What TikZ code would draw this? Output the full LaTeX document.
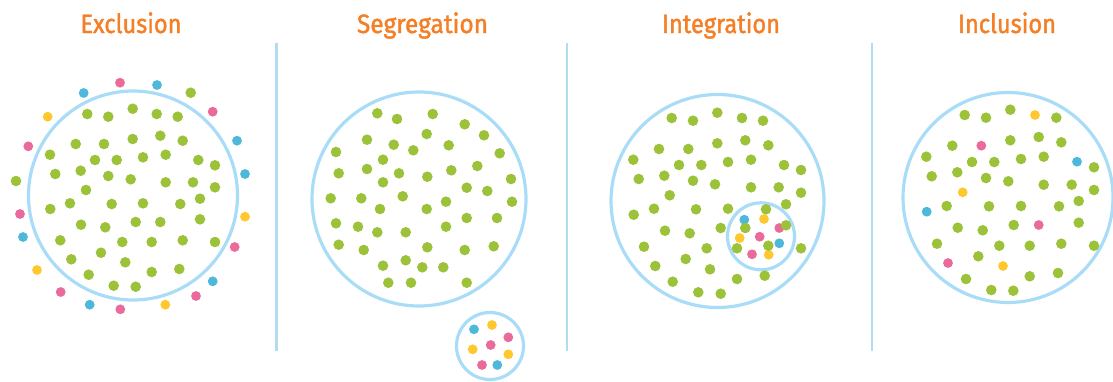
\documentclass[tikz,border=0pt]{standalone}
\usepackage{fontspec}
\setmainfont{Fira Sans}
\newfontfamily\titlefont{Fira Sans}[FakeBold=1.6]
\usepackage{graphicx}
\definecolor{dgreen}{HTML}{9CC23A}
\definecolor{dpink}{HTML}{E96A9B}
\definecolor{dblue}{HTML}{4DB8D9}
\definecolor{dyellow}{HTML}{FEC82E}
\definecolor{ring}{HTML}{A9DDF7}
\definecolor{divider}{HTML}{B3DDEE}
\definecolor{torange}{HTML}{F47F26}
\tikzset{
  ringline/.style={draw=ring, line width=3.2pt},
  divline/.style={draw=divider, line width=2.2pt},
  titletext/.style={text=torange, inner sep=0pt, anchor=base, font=\titlefont\fontsize{26.5}{27}\selectfont},
}
\newcommand{\greendots}[1]{\foreach \px/\py in {#1} {\fill[dgreen] (\px,\py) circle (5.3);}}
\newcommand{\colordots}[2]{\foreach \px/\py in {#2} {\fill[#1] (\px,\py) circle (4.9);}}
\begin{document}
\begin{tikzpicture}[x=1pt,y=-1pt]
\useasboundingbox (0,0) rectangle (1113,381);
% titles
\node[titletext] (t1) at (131,33) {\resizebox{101pt}{\height}{Exclusion}};
\node[titletext] (t2) at (422.5,33) {\resizebox{131pt}{\height}{Segregation}};
\node[titletext] (t3) at (721,33) {\resizebox{118pt}{\height}{Integration}};
\node[titletext] (t4) at (1007,33) {\resizebox{98pt}{\height}{Inclusion}};
% dividers
\draw[divline] (276.5,43) -- (276.5,351);
\draw[divline] (567,43) -- (567,351);
\draw[divline] (872,43) -- (872,351);

% ---------- Exclusion ----------
\draw[ringline] (133,195.5) circle (104.5);
\colordots{dpink}{120/82.7, 212.7/111.7, 28.3/146.3, 20/214, 234.7/247, 60.7/292, 196/296, 120.3/309.3}
\colordots{dblue}{157/85, 83.7/93, 237/140.7, 245/174, 23/237, 212.7/281.3, 89.7/304.7}
\colordots{dyellow}{47.7/116.7, 245/216.7, 37/270, 165.3/304.7}
\greendots{190.7/92.7, 16/181,
87.3/114, 108.3/116.7, 132.7/108.7, 156.7/114, 177.7/116.7,
75.7/144, 104/144, 132.7/139, 160.3/135.7, 182.7/140.7,
50/154.7, 95/160, 116.7/160, 143/157.3, 165.7/154.7, 198.3/160, 215/165.3,
55.3/174, 80.7/170.7, 108.3/176, 130.7/179.3, 165.7/182.3, 193/182.3, 215/187.3,
86/190, 200/198.7, 50.3/209, 70/203.3, 111.7/204, 143/203.3, 180.3/204,
81/224.7, 105.3/227.3, 135.7/222, 160.3/222, 200/219.3,
60.3/240.3, 122.3/242, 151.7/242, 182.7/240.3, 215/242,
101/252.7, 71.3/259.3, 125.3/262.3, 88.7/274.7, 151.7/272, 179.3/269,
113.7/285.7, 135.7/286.7}

% ---------- Segregation ----------
\draw[ringline] (419,199) circle (107);
\greendots{377.3/113.3, 397/119, 432.7/114, 464.7/124.3, 484/135.3,
367/139.7, 426.7/134, 393.7/144.7, 413.3/150.3, 448.7/145.3, 336/152, 499.7/153.3,
383/159.7, 338.7/173.3, 367/169, 399/173.3, 427.3/176.7, 451.3/170.3, 477.3/166, 511/179,
383/182.3, 466.7/187.7, 487.3/191,
330.7/198.3, 361.3/198.3, 402.7/196.3, 446/201.7, 512/201.7,
380/209, 426.7/209,
336/223.3, 358/226.7, 377.3/232.3, 405.7/232.3, 446/226.7, 466.7/218, 497/218,
338.7/244.7, 363.7/250, 427.3/247.3, 464.7/250, 493.7/246.3,
383/265.7, 405.7/260.3, 422.3/267.3, 443.3/267.3,
388.3/282.7, 411/282.7, 466.7/282.7}
\draw[ringline] (490,346) circle (33.5);
\colordots{dblue}{474/329.3, 497.3/365}
\colordots{dyellow}{492/325, 472.7/349.3, 508.3/354.3}
\colordots{dpink}{508.3/337.3, 490.7/345, 482/365}

% ---------- Integration ----------
\draw[ringline] (717.5,201) circle (106.5);
\draw[ringline] (761,236.3) circle (33.5);
\colordots{dblue}{744.3/219.7, 779.3/243.3}
\colordots{dyellow}{764/219, 739.7/238, 768.7/254.7}
\colordots{dpink}{779.3/228, 759.7/236.7, 752/254.3}
\greendots{671.7/118, 693/120.7, 717.3/112.7, 742/118, 763/120.7,
659/149, 688.3/149, 717.3/143.3, 745.3/140.3, 768.3/145.3,
633.3/159.7, 679/165, 701.3/165, 728/162, 751/159.7, 784/165, 801/170,
638.7/179, 664.3/175.7, 693/180.7, 715/184.3, 751/187.3, 778.7/187.3, 801/192.7,
669.7/195.3, 786/204.3,
633.7/214.7, 654/208.7, 696/209.3, 728/208.7, 766/209.3,
665/230.7, 689.7/233.3, 720.7/228, 745.3/228, 786/225.3,
644/246.7, 706.7/248.3, 737/248.3, 768.3/245.7, 801/248.3,
685.7/259, 655.3/266, 710/269.3,
672.7/281.7, 737/279, 764.7/275.7,
698.3/292.3, 720.7/293.7}

% ---------- Inclusion ----------
\draw[ringline] (1008,197.5) circle (105);
\greendots{964.7/115, 986/117.7, 1010.3/109.7, 1056.3/117.7,
952.3/145.7, 1010.3/140.3, 1038.7/137, 1061.3/142.3,
926.3/156.7, 972/162, 994.3/162, 1021/159, 1043.7/156.7, 1094/167.3,
931.7/176.3, 957.3/172.3, 986/178, 1008.3/181.3, 1043.7/184.7, 1071.7/184.7, 1094/190,
1078.7/201, 946.7/206, 989/206.3, 1021/206, 1059/206.3,
957.7/227.7, 982.7/230.3, 1013.7/225, 1078.7/222.7,
937/243.7, 999.3/245.7, 1029.7/245.7, 1061.3/243.7, 1094/245.7,
978.3/256.3, 966/279, 1029.7/276.3, 1058/273,
991.3/290, 1013.3/290.7}
\colordots{dyellow}{1035/115, 962.7/192.3, 1003/266}
\colordots{dpink}{981.3/145.7, 1038.7/225, 948/263}
\colordots{dblue}{1077/161.7, 926.7/211.7}
\end{tikzpicture}
\end{document}
